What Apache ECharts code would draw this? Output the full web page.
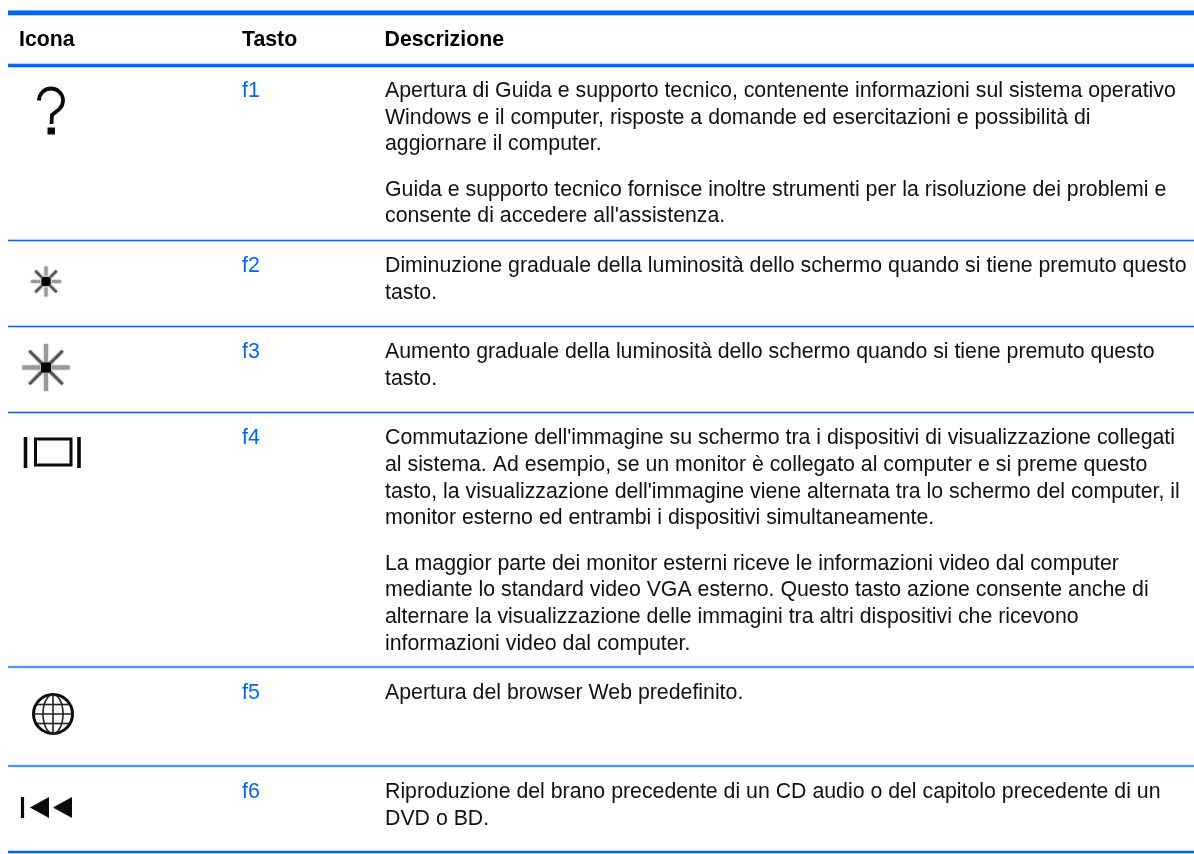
<!DOCTYPE html>
<html><head><meta charset="utf-8">
<style>html,body{margin:0;padding:0;background:#fff}#c{width:1194px;height:854px}</style>
<script src="https://cdn.jsdelivr.net/npm/echarts@6/dist/echarts.min.js"></script>
</head><body><div id="c"></div>
<script>
const headers = ["Icona", "Tasto", "Descrizione"];
const keys = ["f1", "f2", "f3", "f4", "f5", "f6"];
const descriptions = [
  [["Apertura di Guida e supporto tecnico, contenente informazioni sul sistema operativo",
    "Windows e il computer, risposte a domande ed esercitazioni e possibilità di",
    "aggiornare il computer."],
   ["Guida e supporto tecnico fornisce inoltre strumenti per la risoluzione dei problemi e",
    "consente di accedere all'assistenza."]],
  [["Diminuzione graduale della luminosità dello schermo quando si tiene premuto questo",
    "tasto."]],
  [["Aumento graduale della luminosità dello schermo quando si tiene premuto questo",
    "tasto."]],
  [["Commutazione dell'immagine su schermo tra i dispositivi di visualizzazione collegati",
    "al sistema. Ad esempio, se un monitor è collegato al computer e si preme questo",
    "tasto, la visualizzazione dell'immagine viene alternata tra lo schermo del computer, il",
    "monitor esterno ed entrambi i dispositivi simultaneamente."],
   ["La maggior parte dei monitor esterni riceve le informazioni video dal computer",
    "mediante lo standard video VGA esterno. Questo tasto azione consente anche di",
    "alternare la visualizzazione delle immagini tra altri dispositivi che ricevono",
    "informazioni video dal computer."]],
  [["Apertura del browser Web predefinito."]],
  [["Riproduzione del brano precedente di un CD audio o del capitolo precedente di un",
    "DVD o BD."]]
];

// layout (separate from the content above)
const FONT = '"Liberation Sans", Arial, sans-serif';
const SIZE = '21.3px ';
const BLUE = '#0066ff';
const X = {icon: 19, key: 242, desc: 385, left: 8, right: 1194};
const rowTops = [65, 240.5, 326.5, 412.5, 667, 766];
const rowBottom = 852;
const firstLineOffset = 26.1;
const LH = 26.65, PARA = 18.6;

const g = [];
function hline(y, w) {
  g.push({type:'rect', shape:{x:X.left, y:y-w/2-0.8, width:X.right-X.left, height:w+1.6}, style:{fill:'#9cc2ff'}});
  g.push({type:'rect', shape:{x:X.left, y:y-w/2, width:X.right-X.left, height:w}, style:{fill:BLUE}});
}
function txt(x, y, t, o) {
  g.push({type:'text', x, y, style:Object.assign({text:t, font:SIZE+FONT, fill:'#111', textVerticalAlign:'middle', textBaseline:'middle'}, o||{})});
}
hline(12.9, 4.2); hline(65.5, 3);
rowTops.slice(1).forEach(y => hline(y, 1));
hline(rowBottom, 2);

const hdr = {font:'bold '+SIZE+FONT, fill:'#000'};
txt(X.icon, 40.2, headers[0], hdr);
txt(X.key, 40.2, headers[1], hdr);
txt(X.desc - 0.5, 40.2, headers[2], hdr);

keys.forEach((k, i) => {
  const top = rowTops[i];
  txt(X.key, top + firstLineOffset, k, {fill:BLUE});
  let y = top + firstLineOffset;
  descriptions[i].forEach(par => {
    par.forEach(line => { txt(X.desc, y, line); y += LH; });
    y += PARA;
  });
});

const ink = {stroke:'#0a0a0a', fill:'none', lineCap:'butt'};
function line(x1,y1,x2,y2,w,c,blur) {
  g.push({type:'line', shape:{x1,y1,x2,y2}, style:{stroke:c||'#0a0a0a', lineWidth:w, shadowBlur:blur||0, shadowColor:c||'#000'}});
}
// ? icon
g.push({type:'arc', shape:{cx:51, cy:100.5, r:12, startAngle:Math.PI*1.0, endAngle:Math.PI*0.25, clockwise:true}, style:Object.assign({lineWidth:3.8}, ink)});
g.push({type:'polyline', shape:{points:[[59.5,109],[52,115],[51.5,124]]}, style:Object.assign({lineWidth:3.8}, ink)});
g.push({type:'rect', shape:{x:47.5, y:127.5, width:7.5, height:7}, style:{fill:'#0a0a0a'}});
// sun icons
function sun(cx, cy, s, r1, r2, wh, wd) {
  for (let a = 0; a < 8; a++) {
    const t = a*Math.PI/4, d = a%2===1;
    line(cx+r1*Math.cos(t), cy+r1*Math.sin(t), cx+r2*Math.cos(t), cy+r2*Math.sin(t), d?wd:wh, d?'#555':'#999', 2);
  }
  g.push({type:'rect', shape:{x:cx-s/2, y:cy-s/2, width:s, height:s, r:2}, style:{fill:'#000', shadowBlur:2, shadowColor:'#333'}});
}
sun(46, 281.5, 9, 6, 15, 3, 2.4);
sun(46, 367.5, 10, 6, 23.5, 4, 2.8);
// display switch icon
line(25.5,437,25.5,468,3.6); line(79,437,79,468,3.6);
g.push({type:'rect', shape:{x:35.5, y:439, width:35.5, height:26}, style:Object.assign({lineWidth:3}, ink)});
// globe
g.push({type:'circle', shape:{cx:53, cy:714, r:19.5}, style:Object.assign({lineWidth:3}, ink)});
g.push({type:'ellipse', shape:{cx:53, cy:714, rx:10, ry:19.5}, style:{stroke:'#222', fill:'none', lineWidth:1.6}});
line(33.5,714,72.5,714,1.6,'#222'); line(53,694.5,53,733.5,1.6,'#222');
line(37,704.5,69,704.5,1.6,'#222'); line(37,723.5,69,723.5,1.6,'#222');
// previous track icon
line(22.5,797,22.5,818,3.2);
g.push({type:'polygon', shape:{points:[[30,807.5],[49,797],[49,818]]}, style:{fill:'#0a0a0a'}});
g.push({type:'polygon', shape:{points:[[53,807.5],[72,797],[72,818]]}, style:{fill:'#0a0a0a'}});

const chart = echarts.init(document.getElementById('c'), null, {renderer:'canvas', width:1194, height:854});
chart.setOption({backgroundColor:'#fff', animation:false, graphic:{elements:g}});
</script></body></html>
